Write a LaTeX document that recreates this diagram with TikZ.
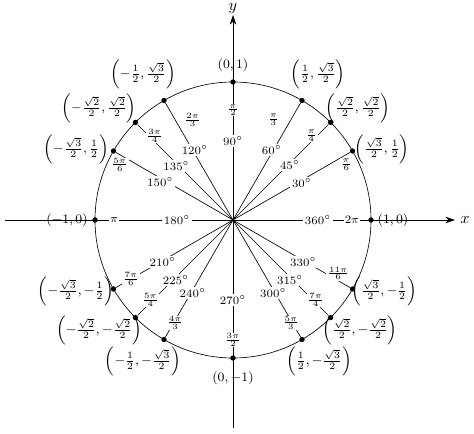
\documentclass[tikz,border=0pt]{standalone}
\usetikzlibrary{arrows.meta}
\begin{document}
\begin{tikzpicture}[x=0.02174cm,y=0.02174cm,
  dot/.style={circle,fill=black,inner sep=0pt,minimum size=3.3pt},
  deg/.style={fill=white,inner sep=1pt,font=\scriptsize},
  rad/.style={fill=white,inner sep=0.5pt,font=\tiny},
  crd/.style={font=\footnotesize,inner sep=1pt},
  ax/.style={-{Stealth[length=6pt,width=4pt]},thin}]
\useasboundingbox (-233,-213) rectangle (241,220);
\coordinate (O) at (0,0);
\coordinate (xl) at (-228,0); \coordinate (xr) at (222,0);
\coordinate (yb) at (0,-208); \coordinate (yt) at (0,205);
\draw[ax] (xl) -- (xr);
\draw[ax] (yb) -- (yt);
\node (xlab) at (232,0) {$x$};
\node (ylab) at (0,211) {$y$};
\draw (O) circle (138);
\foreach \a in {0,30,45,60,90,120,135,150,180,210,225,240,270,300,315,330}
  \node[dot] (p\a) at (\a:138) {};
\foreach \a in {30,45,60,120,135,150,210,225,240,300,315,330}
  \draw (O) -- (p\a);
% degrees
\node[deg] (d30) at (28:78) {$30^\circ$};
\node[deg] (d45) at (44:79) {$45^\circ$};
\node[deg] (d60) at (61:80) {$60^\circ$};
\node[deg] (d90) at (90:79) {$90^\circ$};
\node[deg] (d120) at (118.5:80) {$120^\circ$};
\node[deg] (d135) at (136.5:78) {$135^\circ$};
\node[deg] (d150) at (152.5:82) {$150^\circ$};
\node[deg] (d180) at (180:56) {$180^\circ$};
\node[deg] (d210) at (211:82) {$210^\circ$};
\node[deg] (d225) at (226.5:83) {$225^\circ$};
\node[deg] (d240) at (241:83) {$240^\circ$};
\node[deg] (d270) at (270:80) {$270^\circ$};
\node[deg] (d300) at (299:83) {$300^\circ$};
\node[deg] (d315) at (313.5:83) {$315^\circ$};
\node[deg] (d330) at (329:82) {$330^\circ$};
\node[deg] (d360) at (0:85) {$360^\circ$};
% radians
\node[rad] (r30) at (26:126) {$\frac{\pi}{6}$};
\node[rad] (r45) at (47:115) {$\frac{\pi}{4}$};
\node[rad] (r60) at (68:108) {$\frac{\pi}{3}$};
\node[rad] (r90) at (90:110) {$\frac{\pi}{2}$};
\node[rad] (r120) at (112:108) {$\frac{2\pi}{3}$};
\node[rad] (r135) at (133:115) {$\frac{3\pi}{4}$};
\node[rad] (r150) at (154:126) {$\frac{5\pi}{6}$};
\node[rad,font=\scriptsize] (r180) at (180:119) {$\pi$};
\node[rad] (r210) at (210:118) {$\frac{7\pi}{6}$};
\node[rad] (r225) at (224:115) {$\frac{5\pi}{4}$};
\node[rad] (r240) at (240.6:118) {$\frac{4\pi}{3}$};
\node[rad] (r270) at (270:120) {$\frac{3\pi}{2}$};
\node[rad] (r300) at (299.4:118) {$\frac{5\pi}{3}$};
\node[rad] (r315) at (316:115) {$\frac{7\pi}{4}$};
\node[rad] (r330) at (333:118) {$\frac{11\pi}{6}$};
\node[rad,font=\scriptsize] (r360) at (0:119) {$2\pi$};
% coordinates
\node[crd] (c0) at (160,0) {$(1,0)$};
\node[crd] (c30) at (149,71) {$\left(\frac{\sqrt{3}}{2},\frac{1}{2}\right)$};
\node[crd] (c45) at (125,112) {$\left(\frac{\sqrt{2}}{2},\frac{\sqrt{2}}{2}\right)$};
\node[crd] (c60) at (85,146) {$\left(\frac{1}{2},\frac{\sqrt{3}}{2}\right)$};
\node[crd] (c90) at (0,155) {$(0,1)$};
\node[crd] (c120) at (-90,146) {$\left(-\frac{1}{2},\frac{\sqrt{3}}{2}\right)$};
\node[crd] (c135) at (-134,112) {$\left(-\frac{\sqrt{2}}{2},\frac{\sqrt{2}}{2}\right)$};
\node[crd] (c150) at (-157,71) {$\left(-\frac{\sqrt{3}}{2},\frac{1}{2}\right)$};
\node[crd] (c180) at (-166,0) {$(-1,0)$};
\node[crd] (c210) at (-157,-71) {$\left(-\frac{\sqrt{3}}{2},-\frac{1}{2}\right)$};
\node[crd] (c225) at (-134,-110) {$\left(-\frac{\sqrt{2}}{2},-\frac{\sqrt{2}}{2}\right)$};
\node[crd] (c240) at (-90,-141) {$\left(-\frac{1}{2},-\frac{\sqrt{3}}{2}\right)$};
\node[crd] (c270) at (0,-158) {$(0,-1)$};
\node[crd] (c300) at (86,-141) {$\left(\frac{1}{2},-\frac{\sqrt{3}}{2}\right)$};
\node[crd] (c315) at (127,-110) {$\left(\frac{\sqrt{2}}{2},-\frac{\sqrt{2}}{2}\right)$};
\node[crd] (c330) at (151,-71) {$\left(\frac{\sqrt{3}}{2},-\frac{1}{2}\right)$};
\end{tikzpicture}
\end{document}
